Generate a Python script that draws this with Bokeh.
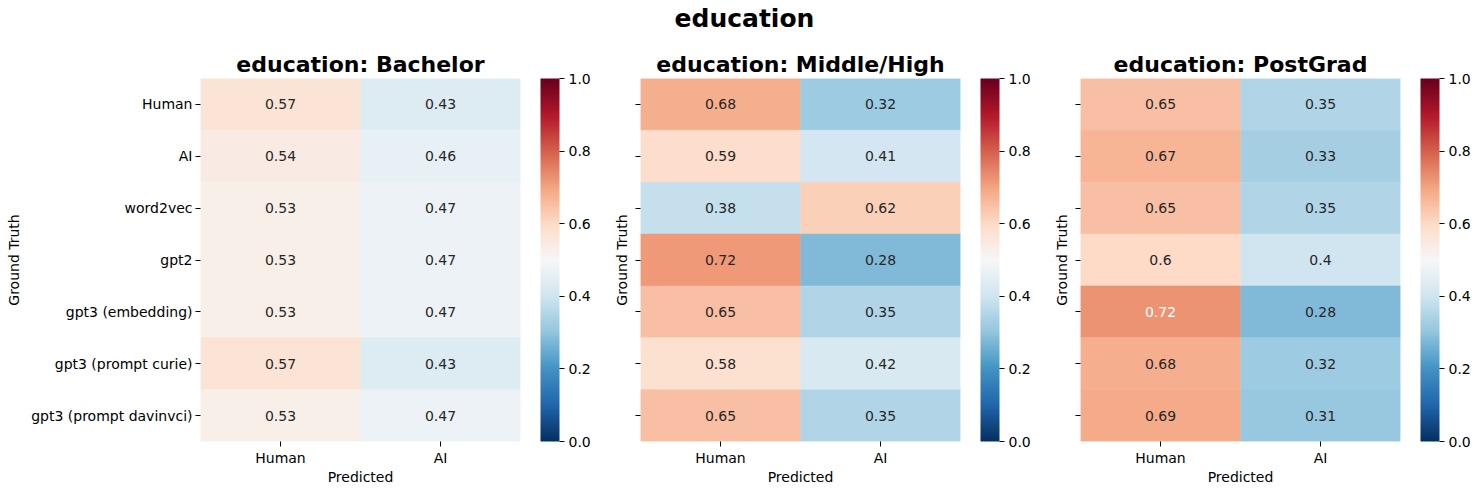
from bokeh.plotting import figure
from bokeh.models import (ColumnDataSource, LinearColorMapper, ColorBar, FixedTicker,
                          PrintfTickFormatter, FactorRange, Div, CustomJSTickFormatter)
from bokeh.layouts import row, column
from bokeh.transform import transform
from bokeh.core.properties import value
from bokeh.embed import file_html
from bokeh.resources import INLINE

suptitle = "education"
categories = ["Human", "AI", "word2vec", "gpt2", "gpt3 (embedding)",
              "gpt3 (prompt curie)", "gpt3 (prompt davinvci)"]
predicted = ["Human", "AI"]
panel_titles = ["education: Bachelor", "education: Middle/High", "education: PostGrad"]

bachelor_human = [0.57, 0.54, 0.53, 0.53, 0.53, 0.57, 0.53]
bachelor_ai = [0.43, 0.46, 0.47, 0.47, 0.47, 0.43, 0.47]
middle_human = [0.68, 0.59, 0.38, 0.716, 0.65, 0.58, 0.65]
middle_ai = [0.32, 0.41, 0.62, 0.28, 0.35, 0.42, 0.35]
postgrad_human = [0.65, 0.67, 0.65, 0.6, 0.7245, 0.68, 0.69]
postgrad_ai = [0.35, 0.33, 0.35, 0.4, 0.28, 0.32, 0.31]

cbar_ticks = [0.0, 0.2, 0.4, 0.6, 0.8, 1.0]

panels = [(bachelor_human, bachelor_ai), (middle_human, middle_ai), (postgrad_human, postgrad_ai)]

# RdBu_r colormap (ColorBrewer anchors, blue -> red), 256 steps
anchors = ["#053061", "#2166ac", "#4393c3", "#92c5de", "#d1e5f0", "#f7f7f7",
           "#fddbc7", "#f4a582", "#d6604d", "#b2182b", "#67001f"]


def hex2rgb(h):
    return tuple(int(h[i:i + 2], 16) for i in (1, 3, 5))


def cmap(t):
    t = min(max(t, 0.0), 1.0)
    pos = t * (len(anchors) - 1)
    i = min(int(pos), len(anchors) - 2)
    f = pos - i
    a, b = hex2rgb(anchors[i]), hex2rgb(anchors[i + 1])
    return tuple(a[k] + (b[k] - a[k]) * f for k in range(3))


def to_hex(c):
    return "#%02x%02x%02x" % tuple(int(round(x)) for x in c)


palette = [to_hex(cmap(i / 255)) for i in range(256)]


def luminance(c):
    out = []
    for x in c:
        x = x / 255
        out.append(x / 12.92 if x <= 0.03928 else ((x + 0.055) / 1.055) ** 2.4)
    return 0.2126 * out[0] + 0.7152 * out[1] + 0.0722 * out[2]


FONT = "DejaVu Sans"
mapper = LinearColorMapper(palette=palette, low=0, high=1)

figs = []
for idx, ((hum, ai), title) in enumerate(zip(panels, panel_titles)):
    xs, ys, vals, labels, tcol = [], [], [], [], []
    for col_name, col_vals in zip(predicted, (hum, ai)):
        for cat, v in zip(categories, col_vals):
            xs.append(col_name)
            ys.append(cat)
            vals.append(v)
            labels.append(format(v, ".2g"))
            c = palette[min(int(v * 256), 255)]
            tcol.append("#ffffff" if luminance(hex2rgb(c)) < 0.408 else "#262626")
    src = ColumnDataSource(dict(x=xs, y=ys, v=vals, label=labels, tc=tcol))

    p = figure(x_range=FactorRange(*predicted), y_range=FactorRange(*reversed(categories)),
               frame_width=320, frame_height=363, output_backend="svg",
               toolbar_location=None, min_border_top=44, min_border_bottom=44,
               min_border_left=200 if idx == 0 else 40,
               min_border_right=80 if idx < 2 else 70)
    p.rect(x="x", y="y", width=1, height=1, source=src,
           fill_color=transform("v", mapper), line_color=transform("v", mapper), line_width=0.5)
    p.text(x="x", y="y", text="label", source=src, text_color="tc",
           text_align="center", text_baseline="middle",
           text_font=value(FONT), text_font_size="14px")

    p.title.text = title
    p.title.align = "center"
    p.title.text_font = FONT
    p.title.text_font_size = "22px"
    p.title.text_font_style = "bold"
    p.title.text_color = "#000000"
    p.title.standoff = 4

    p.grid.grid_line_color = None
    p.outline_line_color = None
    for ax in (p.xaxis, p.yaxis):
        ax.axis_line_color = None
        ax.major_tick_in = 0
        ax.major_tick_out = 5
        ax.major_tick_line_color = "#000000"
        ax.major_label_text_font = FONT
        ax.major_label_text_font_size = "14px"
        ax.major_label_text_color = "#000000"
        ax.axis_label_text_font = FONT
        ax.axis_label_text_font_size = "14px"
        ax.axis_label_text_font_style = "normal"
        ax.axis_label_text_color = "#000000"
        ax.major_label_standoff = 3
    p.xaxis.axis_label = "Predicted"
    p.xaxis.axis_label_standoff = 0
    p.yaxis.axis_label = "Ground Truth"
    p.yaxis.axis_label_standoff = 6
    if idx > 0:
        p.yaxis.formatter = CustomJSTickFormatter(code="return '';")

    cb = ColorBar(color_mapper=mapper, width=19, padding=0, margin=0, location=(20, 0),
                  ticker=FixedTicker(ticks=cbar_ticks),
                  formatter=PrintfTickFormatter(format="%.1f"),
                  major_tick_in=0, major_tick_out=5, major_tick_line_color="#000000",
                  major_label_text_font=FONT, major_label_text_font_size="14px",
                  major_label_text_color="#000000", label_standoff=4,
                  bar_line_color=None, border_line_color=None)
    p.add_layout(cb, "right")
    figs.append(p)

div = Div(text=suptitle, width=1463, height=24,
          styles={"font-family": FONT, "font-size": "25px", "font-weight": "bold",
                  "text-align": "center", "color": "#000000", "line-height": "27px",
                  "padding-left": "16px", "box-sizing": "border-box"})
layout = column(div, row(*figs, spacing=0), spacing=0)
open("out.html", "w").write(file_html(layout, INLINE))
